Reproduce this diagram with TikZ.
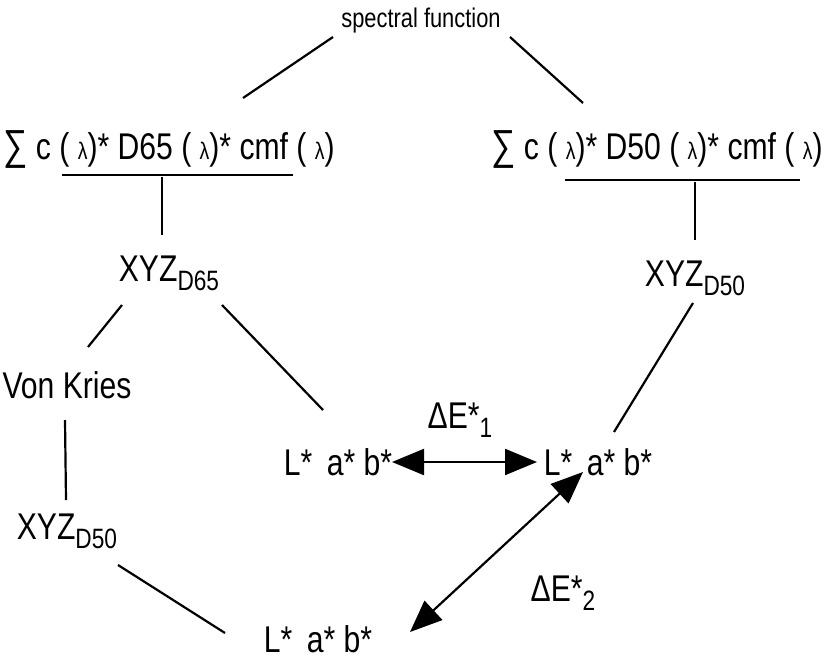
\documentclass[tikz,border=0pt]{standalone}
\usepackage{fontspec}
\setmainfont[FakeStretch=0.81]{Liberation Sans}
\usetikzlibrary{arrows.meta,calc}

\newcommand{\lam}{{\fontsize{12}{12}\selectfont λ}}
\newcommand{\subs}[1]{\raisebox{-0.45ex}{\fontsize{14}{14}\selectfont #1}}
\newcommand{\bigsum}{{\fontsize{21}{21}\selectfont ∑}}

\begin{document}
\begin{tikzpicture}[x=0.5pt, y=-0.5pt,
    lbl/.style={font=\fontsize{18.6}{21}\selectfont, inner sep=1pt},
    small lbl/.style={font=\fontsize{13.5}{15}\selectfont, inner sep=1pt},
    link/.style={line width=1.1pt},
    diff/.style={line width=1.1pt, {Triangle[length=16pt,width=13pt]}-{Triangle[length=16pt,width=13pt]}}]
  \useasboundingbox (0,0) rectangle (834,658);

  % Spectral source and the two illuminant sums
  \node[small lbl] (spec) at (421,21) {spectral function};
  \node[lbl] (sumL) at (169,150) {\bigsum\ c ( \lam)* D65 ( \lam)* cmf ( \lam)};
  \node[lbl] (sumR) at (657,150) {\bigsum\ c ( \lam)* D50 ( \lam)* cmf ( \lam)};

  % Tristimulus values
  \node[lbl] (xyzA) at (169,273) {XYZ\subs{D65}};
  \node[lbl] (xyzB) at (695,278) {XYZ\subs{D50}};
  \node[lbl] (vonK) at (67,385) {Von Kries};
  \node[lbl] (xyzC) at (67,531) {XYZ\subs{D50}};

  % CIELAB values
  \node[lbl] (labA) at (338,462) {L*\, a* b*};
  \node[lbl] (labB) at (598,462) {L*\, a* b*};
  \node[lbl] (labC) at (318,639) {L*\, a* b*};
  \node[lbl] (dE1) at (460,420) {ΔE*\subs{1}};
  \node[lbl] (dE2) at (563,593) {ΔE*\subs{2}};

  % Connectors
  \draw[link] ($(spec)+(-88,16)$) -- ($(sumL)+(74,-52)$);
  \draw[link] ($(spec)+(89,16)$) -- ($(sumR)+(-74,-47)$);
  \draw[link] ($(sumL)+(-107,25)$) -- ($(sumL)+(124,25)$);
  \draw[link] ($(sumR)+(-92,30)$) -- ($(sumR)+(143,30)$);
  \draw[link] ($(sumL)+(-7,27)$) -- ($(xyzA)+(-7,-38)$);
  \draw[link] ($(sumR)+(38,32)$) -- ($(xyzB)+(0,-38)$);
  \draw[link] ($(xyzA)+(-47,32)$) -- ($(vonK)+(21,-38)$);
  \draw[link] ($(xyzA)+(53,32)$) -- ($(labA)+(-15,-52)$);
  \draw[link] ($(xyzB)+(-2,25)$) -- ($(labB)+(16,-30)$);
  \draw[link] ($(vonK)+(-2,35)$) -- ($(xyzC)+(-1,-31)$);
  \draw[link] ($(xyzC)+(51,34)$) -- ($(labC)+(-93,-6)$);

  % Colour differences
  \draw[diff] ($(labA)+(54,0)$) -- ($(labB)+(-61,0)$);
  \draw[diff] ($(labC)+(92,-7)$) -- ($(labB)+(-15,10)$);
\end{tikzpicture}
\end{document}
